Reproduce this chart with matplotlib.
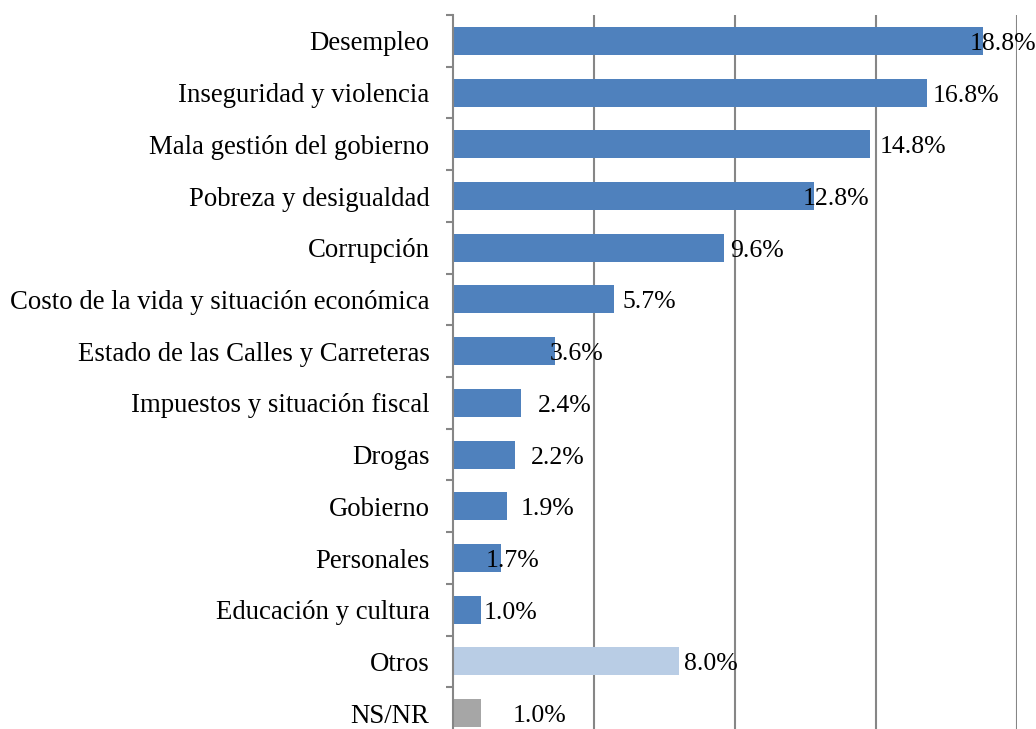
import matplotlib
matplotlib.use('Agg')
import matplotlib.pyplot as plt
from matplotlib.transforms import offset_copy

categories = ['Desempleo', 'Inseguridad y violencia', 'Mala gestión del gobierno',
              'Pobreza y desigualdad', 'Corrupción',
              'Costo de la vida y situación económica',
              'Estado de las Calles y Carreteras', 'Impuestos y situación fiscal',
              'Drogas', 'Gobierno', 'Personales', 'Educación y cultura',
              'Otros', 'NS/NR']
values = [18.8, 16.8, 14.8, 12.8, 9.6, 5.7, 3.6, 2.4, 2.2, 1.9, 1.7, 1.0, 8.0, 1.0]
colors = ['#4F81BD'] * 12 + ['#B9CDE5', '#A6A6A6']
# horizontal shift of each value label from the bar end, in pixels (as placed in the original)
label_shift = [-13, 6, 9, -11, 6, 9, -5, 17, 16, 14, -15, 2, 5, 31]

plt.rcParams['font.family'] = ['Liberation Serif', 'DejaVu Serif']

W, H = 1036, 729
fig = plt.figure(figsize=(W / 100, H / 100), dpi=100)
left, right, top, bottom = 453, 1017, 15, 739
ax = fig.add_axes([left / W, (H - bottom) / H, (right - left) / W, (bottom - top) / H])

y = range(len(categories))
ax.barh(y, values, height=0.54, color=colors, zorder=3)

ax.set_xlim(0, 20)
ax.set_ylim(len(categories) - 0.5, -0.5)
ax.set_xticks([5, 10, 15, 20])
ax.tick_params(axis='x', length=0, labelbottom=False)
ax.grid(axis='x', color='#868686', linewidth=1.5, zorder=1)

ax.set_yticks(list(y))
ax.set_yticklabels(categories, fontsize=19.3)
ax.set_yticks([i - 0.5 for i in range(len(categories) + 1)], minor=True)
ax.tick_params(axis='y', which='major', length=0, pad=17)
ax.tick_params(axis='y', which='minor', length=5, width=1.5, color='#868686')

for s in ['top', 'right', 'bottom']:
    ax.spines[s].set_visible(False)
ax.spines['left'].set_color('#868686')
ax.spines['left'].set_linewidth(1.5)
ax.spines['left'].set_zorder(4)

for i, (v, dx) in enumerate(zip(values, label_shift)):
    tr = offset_copy(ax.transData, fig=fig, x=dx, y=-3, units='dots')
    ax.text(v, i, f'{v:.1f}%', transform=tr, ha='left', va='center',
            fontsize=18.5, zorder=5)

fig.savefig('out.png', dpi=100)
